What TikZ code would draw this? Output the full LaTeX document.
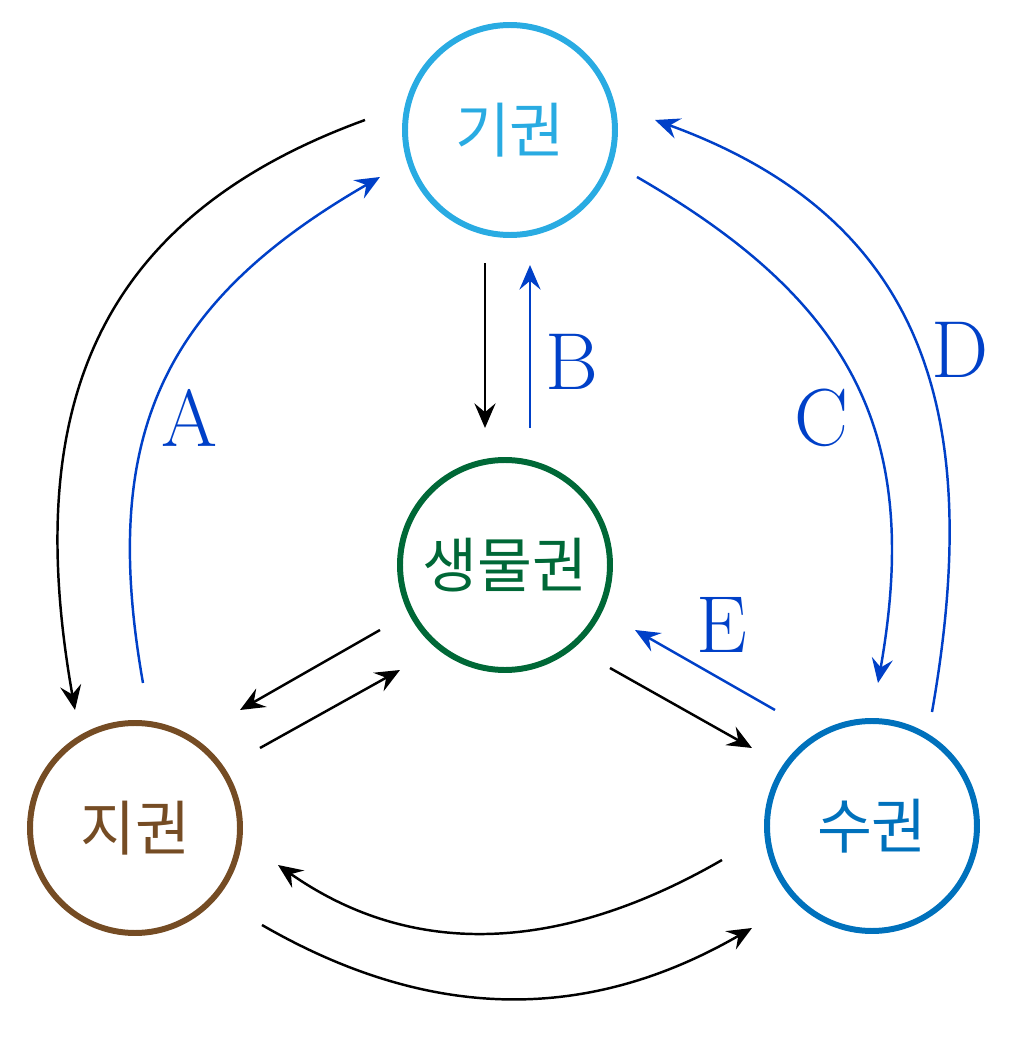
\documentclass[tikz,border=0pt]{standalone}
\usepackage{fontspec}
\newfontfamily\kr{Noto Sans CJK KR}
\usetikzlibrary{arrows.meta}
\definecolor{airc}{RGB}{41,171,226}
\definecolor{bioc}{RGB}{0,104,55}
\definecolor{geoc}{RGB}{117,76,36}
\definecolor{hydc}{RGB}{0,113,188}
\definecolor{flow}{RGB}{0,64,200}
\tikzset{
	sphere/.style={circle,draw,line width=1.7pt,minimum size=2.1cm,font=\kr\fontsize{17}{20}\selectfont},
	blk/.style={->,black,line width=0.7pt},
	blu/.style={->,flow,line width=0.7pt},
	lbl/.style={text=flow,font=\fontsize{23}{26}\selectfont}
}
\begin{document}
\begin{tikzpicture}[>={Stealth[length=7pt,width=6pt,inset=2.5pt]}]
	\useasboundingbox (0,0) rectangle (10.11,10.38);
	\node [sphere,draw=airc,text=airc] (gi) at (5.10,9.08) {기권};
	\node [sphere,draw=bioc,text=bioc] (bio) at (5.05,4.73) {생물권};
	\node [sphere,draw=geoc,text=geoc] (ji) at (1.35,2.10) {지권};
	\node [sphere,draw=hydc,text=hydc] (su) at (8.72,2.12) {수권};
	% end points
	\coordinate (a1) at (3.65,9.18); \coordinate (a2) at (0.75,3.28);
	\coordinate (b1) at (1.43,3.55); \coordinate (b2) at (3.80,8.61);
	\coordinate (c1) at (4.85,7.75); \coordinate (c2) at (4.85,6.10);
	\coordinate (d1) at (5.30,6.10); \coordinate (d2) at (5.30,7.73);
	\coordinate (e1) at (6.37,8.61); \coordinate (e2) at (8.78,3.55);
	\coordinate (f1) at (9.32,3.26); \coordinate (f2) at (6.55,9.18);
	\coordinate (g1) at (7.75,3.28); \coordinate (g2) at (6.35,4.08);
	\coordinate (h1) at (3.80,4.08); \coordinate (h2) at (2.40,3.28);
	\coordinate (i1) at (2.60,2.90); \coordinate (i2) at (4.00,3.68);
	\coordinate (j1) at (6.10,3.70); \coordinate (j2) at (7.52,2.90);
	\coordinate (k1) at (7.22,1.78); \coordinate (k2) at (2.78,1.73);
	\coordinate (l1) at (2.62,1.13); \coordinate (l2) at (7.52,1.10);
	\draw [blk] (a1) to[out=200,in=100,looseness=1.15] (a2);
	\draw [blu] (b1) to[out=100,in=210,looseness=1.15] (b2);
	\draw [blk] (c1) -- (c2);
	\draw [blu] (d1) -- (d2);
	\draw [blu] (e1) to[out=-30,in=80,looseness=1.15] (e2);
	\draw [blu] (f1) to[out=80,in=-20,looseness=1.15] (f2);
	\draw [blu] (g1) -- (g2);
	\draw [blk] (h1) -- (h2);
	\draw [blk] (i1) -- (i2);
	\draw [blk] (j1) -- (j2);
	\draw [blk] (k1) to[out=-150,in=-35] (k2);
	\draw [blk] (l1) to[out=-30,in=-150] (l2);
	\node [lbl] (la) at (1.90,6.20) {A};
	\node [lbl] (lb) at (5.72,6.76) {B};
	\node [lbl] (lc) at (8.22,6.20) {C};
	\node [lbl] (ld) at (9.60,6.88) {D};
	\node [lbl] (le) at (7.22,4.13) {E};
\end{tikzpicture}
\end{document}
